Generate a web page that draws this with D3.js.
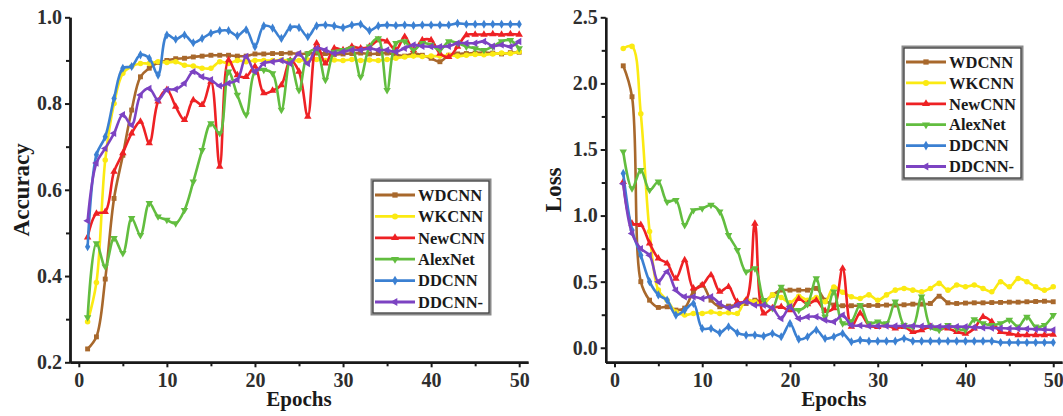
<!DOCTYPE html>
<html>
<head>
<meta charset="utf-8">
<script src="https://cdn.jsdelivr.net/npm/d3@7"></script>
<style>
  html, body { margin: 0; padding: 0; background: #fff; }
  svg { display: block; }
  text { font-family: "Liberation Serif", "Times New Roman", serif; font-weight: bold; }
</style>
</head>
<body>
<svg id="chart" width="1063" height="416"></svg>
<script>
// ---- data -------------------------------------------------------------
const epochs = d3.range(1, 51);
const modelNames = ["WDCNN", "WKCNN", "NewCNN", "AlexNet", "DDCNN", "DDCNN-"];
const modelColors = ["#a8682c", "#fbea12", "#ee2124", "#62bd3f", "#3b80d2", "#7c43c2"];
const modelMarkers = ["square", "circle", "triangleUp", "triangleDown", "diamond", "triangleLeft"];

const accXTicks = [0, 10, 20, 30, 40, 50];
const accYTicks = [0.2, 0.4, 0.6, 0.8, 1.0];
const lossXTicks = [0, 10, 20, 30, 40, 50];
const lossYTicks = [0.0, 0.5, 1.0, 1.5, 2.0, 2.5];

const accWDCNN = [0.231, 0.259, 0.393, 0.58, 0.68, 0.785, 0.862, 0.882, 0.895, 0.9, 0.904, 0.905, 0.908, 0.91, 0.912, 0.912, 0.912, 0.91, 0.91, 0.915, 0.915, 0.916, 0.916, 0.917, 0.915, 0.916, 0.917, 0.916, 0.914, 0.915, 0.916, 0.917, 0.915, 0.916, 0.917, 0.913, 0.91, 0.916, 0.912, 0.905, 0.897, 0.912, 0.915, 0.916, 0.917, 0.918, 0.917, 0.915, 0.918, 0.919];
const accWKCNN = [0.294, 0.385, 0.669, 0.8, 0.87, 0.886, 0.893, 0.893, 0.897, 0.895, 0.897, 0.889, 0.887, 0.882, 0.882, 0.897, 0.893, 0.9, 0.897, 0.9, 0.9, 0.9, 0.901, 0.9, 0.9, 0.901, 0.902, 0.9, 0.901, 0.9, 0.902, 0.9, 0.901, 0.9, 0.902, 0.905, 0.908, 0.91, 0.909, 0.91, 0.91, 0.912, 0.91, 0.912, 0.914, 0.913, 0.915, 0.917, 0.916, 0.92];
const accNewCNN = [0.49, 0.545, 0.549, 0.642, 0.685, 0.731, 0.758, 0.708, 0.805, 0.832, 0.793, 0.762, 0.808, 0.797, 0.851, 0.654, 0.901, 0.866, 0.862, 0.886, 0.824, 0.83, 0.843, 0.9, 0.874, 0.77, 0.94, 0.893, 0.928, 0.924, 0.932, 0.928, 0.932, 0.947, 0.944, 0.924, 0.955, 0.924, 0.947, 0.947, 0.916, 0.908, 0.932, 0.959, 0.96, 0.96, 0.961, 0.96, 0.961, 0.96];
const accAlexNet = [0.304, 0.476, 0.422, 0.488, 0.453, 0.534, 0.495, 0.569, 0.538, 0.53, 0.522, 0.553, 0.619, 0.692, 0.754, 0.731, 0.874, 0.82, 0.774, 0.874, 0.878, 0.87, 0.785, 0.9, 0.831, 0.916, 0.924, 0.855, 0.92, 0.924, 0.928, 0.862, 0.932, 0.951, 0.831, 0.94, 0.944, 0.924, 0.94, 0.936, 0.924, 0.944, 0.94, 0.932, 0.928, 0.924, 0.932, 0.944, 0.947, 0.928];
const accDDCNN = [0.468, 0.681, 0.723, 0.812, 0.882, 0.886, 0.913, 0.905, 0.866, 0.959, 0.949, 0.959, 0.941, 0.951, 0.963, 0.969, 0.969, 0.957, 0.971, 0.932, 0.98, 0.975, 0.951, 0.976, 0.976, 0.955, 0.98, 0.982, 0.98, 0.976, 0.982, 0.984, 0.969, 0.98, 0.982, 0.981, 0.982, 0.981, 0.982, 0.982, 0.982, 0.982, 0.986, 0.984, 0.984, 0.984, 0.984, 0.984, 0.984, 0.984];
const accDDCNNm = [0.528, 0.662, 0.696, 0.731, 0.774, 0.75, 0.82, 0.835, 0.808, 0.832, 0.833, 0.847, 0.874, 0.862, 0.855, 0.841, 0.847, 0.855, 0.909, 0.874, 0.893, 0.897, 0.9, 0.893, 0.916, 0.893, 0.928, 0.924, 0.916, 0.92, 0.924, 0.924, 0.928, 0.924, 0.924, 0.92, 0.928, 0.936, 0.933, 0.932, 0.932, 0.933, 0.94, 0.94, 0.94, 0.944, 0.933, 0.936, 0.932, 0.944];

const lossWDCNN = [2.133, 1.899, 0.5, 0.36, 0.305, 0.31, 0.285, 0.3, 0.424, 0.474, 0.36, 0.31, 0.315, 0.323, 0.335, 0.36, 0.348, 0.398, 0.436, 0.436, 0.436, 0.436, 0.449, 0.36, 0.323, 0.318, 0.318, 0.318, 0.32, 0.32, 0.323, 0.323, 0.325, 0.33, 0.33, 0.335, 0.39, 0.34, 0.335, 0.338, 0.34, 0.34, 0.342, 0.343, 0.345, 0.345, 0.348, 0.35, 0.352, 0.348];
const lossWKCNN = [2.264, 2.28, 1.77, 0.88, 0.436, 0.36, 0.27, 0.247, 0.26, 0.26, 0.27, 0.26, 0.265, 0.26, 0.36, 0.348, 0.33, 0.4, 0.38, 0.34, 0.39, 0.36, 0.38, 0.348, 0.46, 0.42, 0.386, 0.373, 0.4, 0.36, 0.4, 0.436, 0.449, 0.436, 0.424, 0.449, 0.487, 0.436, 0.474, 0.461, 0.474, 0.449, 0.424, 0.5, 0.461, 0.524, 0.5, 0.461, 0.436, 0.461];
const lossNewCNN = [1.256, 0.94, 0.93, 0.79, 0.676, 0.638, 0.524, 0.663, 0.449, 0.474, 0.55, 0.424, 0.461, 0.348, 0.36, 0.94, 0.26, 0.3, 0.31, 0.285, 0.37, 0.33, 0.36, 0.28, 0.3, 0.6, 0.16, 0.26, 0.17, 0.159, 0.17, 0.146, 0.159, 0.121, 0.134, 0.159, 0.146, 0.146, 0.121, 0.108, 0.146, 0.234, 0.197, 0.121, 0.108, 0.096, 0.096, 0.096, 0.096, 0.1];
const lossAlexNet = [1.483, 1.205, 1.344, 1.193, 1.256, 1.104, 1.117, 0.928, 1.04, 1.054, 1.08, 1.03, 0.852, 0.739, 0.575, 0.6, 0.36, 0.3, 0.461, 0.31, 0.285, 0.33, 0.524, 0.234, 0.424, 0.184, 0.2, 0.323, 0.184, 0.197, 0.184, 0.348, 0.171, 0.16, 0.386, 0.159, 0.134, 0.171, 0.146, 0.134, 0.214, 0.184, 0.171, 0.184, 0.21, 0.159, 0.234, 0.159, 0.171, 0.247];
const lossDDCNN = [1.319, 0.89, 0.7, 0.5, 0.4, 0.36, 0.247, 0.285, 0.335, 0.146, 0.146, 0.113, 0.159, 0.113, 0.096, 0.096, 0.088, 0.108, 0.083, 0.184, 0.065, 0.083, 0.134, 0.07, 0.083, 0.108, 0.045, 0.058, 0.05, 0.05, 0.05, 0.05, 0.07, 0.05, 0.05, 0.05, 0.05, 0.05, 0.05, 0.05, 0.05, 0.05, 0.05, 0.04, 0.04, 0.04, 0.04, 0.04, 0.04, 0.04];
const lossDDCNNm = [1.24, 0.865, 0.75, 0.7, 0.5, 0.575, 0.436, 0.386, 0.386, 0.373, 0.386, 0.335, 0.3, 0.323, 0.348, 0.323, 0.323, 0.3, 0.222, 0.31, 0.222, 0.234, 0.234, 0.21, 0.197, 0.247, 0.171, 0.168, 0.165, 0.165, 0.165, 0.165, 0.165, 0.165, 0.162, 0.162, 0.16, 0.16, 0.16, 0.159, 0.155, 0.152, 0.15, 0.148, 0.146, 0.145, 0.143, 0.14, 0.138, 0.134];

const accSeries = [accWDCNN, accWKCNN, accNewCNN, accAlexNet, accDDCNN, accDDCNNm];
const lossSeries = [lossWDCNN, lossWKCNN, lossNewCNN, lossAlexNet, lossDDCNN, lossDDCNNm];

// ---- helpers ----------------------------------------------------------
const svg = d3.select("#chart");

function markerPath(kind, size) {
  const base = {
    square: d3.symbolSquare, circle: d3.symbolCircle, diamond: d3.symbolDiamond,
    triangleUp: d3.symbolTriangle, triangleDown: d3.symbolTriangle, triangleLeft: d3.symbolTriangle
  }[kind];
  return d3.symbol().type(base).size(size)();
}
function markerRotation(kind) {
  return kind === "triangleDown" ? 180 : kind === "triangleLeft" ? -90 : 0;
}

function drawPanel(opts) {
  const { xRange, yDomain, yRange, series, xTicks, yTicks, xMinor, yMinor, yFormat, yTitle, yTitleX } = opts;
  const x = d3.scaleLinear().domain([-1, 51]).range(xRange);
  const y = d3.scaleLinear().domain(yDomain).range(yRange);
  const g = svg.append("g");

  // series lines and markers
  const line = d3.line().x((d, i) => x(epochs[i])).y(d => y(d)).curve(d3.curveCatmullRom.alpha(0.5));
  series.forEach((vals, k) => {
    g.append("path").datum(vals)
      .attr("d", line).attr("fill", "none")
      .attr("stroke", modelColors[k]).attr("stroke-width", 2.6)
      .attr("stroke-linejoin", "round");
    g.selectAll(null).data(vals).enter().append("path")
      .attr("d", markerPath(modelMarkers[k], 24))
      .attr("transform", (d, i) => `translate(${x(epochs[i])},${y(d)}) rotate(${markerRotation(modelMarkers[k])})`)
      .attr("fill", modelColors[k]);
  });

  // axes
  const axisColor = "#1a1a1a";
  const xAxis = g.append("g").attr("transform", `translate(0,${yRange[0]})`)
    .call(d3.axisBottom(x).tickValues(xTicks).tickSize(5).tickSizeOuter(0).tickPadding(6).tickFormat(d3.format("d")));
  const xMinorAxis = g.append("g").attr("transform", `translate(0,${yRange[0]})`)
    .call(d3.axisBottom(x).tickValues(xMinor).tickSize(4).tickSizeOuter(0).tickFormat(""));
  const yAxis = g.append("g").attr("transform", `translate(${xRange[0]},0)`)
    .call(d3.axisLeft(y).tickValues(yTicks).tickSize(5).tickSizeOuter(0).tickPadding(3).tickFormat(yFormat));
  const yMinorAxis = g.append("g").attr("transform", `translate(${xRange[0]},0)`)
    .call(d3.axisLeft(y).tickValues(yMinor).tickSize(4).tickSizeOuter(0).tickFormat(""));

  [xAxis, xMinorAxis, yAxis, yMinorAxis].forEach(a => {
    a.select(".domain").attr("stroke", axisColor).attr("stroke-width", 2.4);
    a.selectAll(".tick line").attr("stroke", axisColor).attr("stroke-width", 2);
    a.selectAll(".tick text").attr("fill", "#2e2e2e").style("font-size", "20px")
      .style("font-family", "'Liberation Serif', serif").style("font-weight", "bold");
  });

  // titles
  g.append("text").attr("x", (xRange[0] + xRange[1]) / 2).attr("y", 406)
    .attr("text-anchor", "middle").attr("fill", "#1a1a1a").style("font-size", "21px").text("Epochs");
  g.append("text").attr("transform", `translate(${yTitleX},${(yRange[0] + yRange[1]) / 2}) rotate(-90)`)
    .attr("text-anchor", "middle").attr("fill", "#1a1a1a").style("font-size", "23px").text(yTitle);

  return g;
}

function drawLegend(left, top, width, height, rowGap) {
  const lg = svg.append("g").attr("transform", `translate(${left},${top})`);
  lg.append("rect").attr("width", width).attr("height", height)
    .attr("fill", "#fff").attr("stroke", "#8a8a8a").attr("stroke-width", 3);
  lg.append("rect").attr("x", 1).attr("y", 1).attr("width", width - 2).attr("height", height - 2)
    .attr("fill", "none").attr("stroke", "#3a3a3a").attr("stroke-width", 1);
  modelNames.forEach((name, k) => {
    const cy = 15 + k * rowGap;
    lg.append("line").attr("x1", 3).attr("x2", 43).attr("y1", cy).attr("y2", cy)
      .attr("stroke", modelColors[k]).attr("stroke-width", 2.8);
    lg.append("path").attr("d", markerPath(modelMarkers[k], 28))
      .attr("transform", `translate(23,${cy}) rotate(${markerRotation(modelMarkers[k])})`)
      .attr("fill", modelColors[k]);
    lg.append("text").attr("x", 46).attr("y", cy).attr("dy", "0.35em")
      .attr("fill", "#1a1a1a").style("font-size", "16.5px").text(name);
  });
}

// ---- accuracy panel -----------------------------------------------------
drawPanel({
  xRange: [70, 528], yDomain: [0.2, 1.0], yRange: [362.3, 17.3],
  series: accSeries, xTicks: accXTicks, yTicks: accYTicks,
  xMinor: [5, 15, 25, 35, 45], yMinor: [0.3, 0.5, 0.7, 0.9],
  yFormat: d3.format(".1f"), yTitle: "Accuracy", yTitleX: 29
});
drawLegend(372, 180, 118, 134, 21.4);

// ---- loss panel ---------------------------------------------------------
drawPanel({
  xRange: [605.7, 1062], yDomain: [-0.11, 2.5], yRange: [362.3, 17.3],
  series: lossSeries, xTicks: lossXTicks, yTicks: lossYTicks,
  xMinor: [5, 15, 25, 35, 45], yMinor: [0.25, 0.75, 1.25, 1.75, 2.25],
  yFormat: d3.format(".1f"), yTitle: "Loss", yTitleX: 561
});
drawLegend(903, 47, 119, 132, 20.9);
</script>
</body>
</html>
